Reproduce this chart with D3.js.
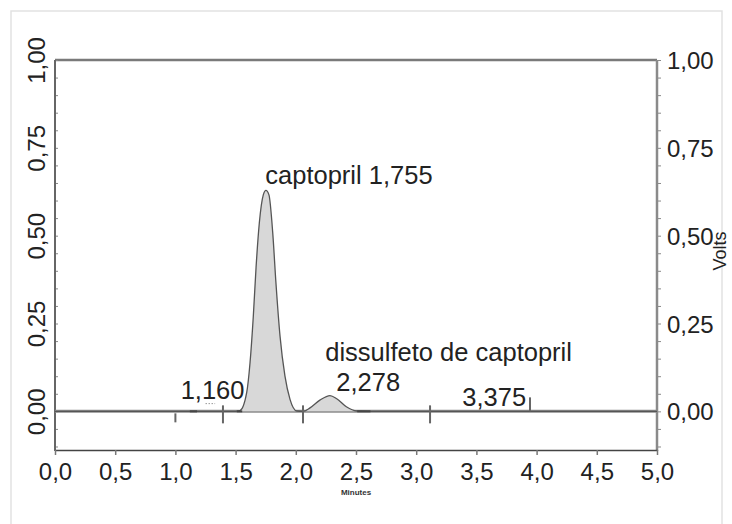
<!DOCTYPE html>
<html>
<head>
<meta charset="utf-8">
<script src="https://cdn.jsdelivr.net/npm/d3@7/dist/d3.min.js"></script>
<style>
  body { margin: 0; background: #fff; }
  text { font-family: "Liberation Sans", Arial, sans-serif; fill: #222; }
</style>
</head>
<body>
<svg id="chart" width="732" height="524"></svg>
<script>
// chromatogram trace (minutes, volts)
const times = [0, 1.50, 1.537, 1.592, 1.62, 1.647, 1.67, 1.697, 1.73, 1.752, 1.777, 1.808, 1.835, 1.869, 1.91, 1.952, 2.007, 2.06, 2.118, 2.20, 2.284, 2.34, 2.42, 2.506, 2.60, 5.0];
const volts = [0, 0, 0.002, 0.053, 0.139, 0.27, 0.41, 0.536, 0.616, 0.629, 0.616, 0.51, 0.366, 0.214, 0.10, 0.034, 0.001, 0, 0.01, 0.032, 0.045, 0.036, 0.013, 0.001, 0, 0];

// integration events along the baseline
const eventTimes = [1.0, 1.395, 2.06, 3.115, 3.945];
const eventKinds = ["down", "cross", "cross", "cross", "up"];
const dashStarts = [1.12, 1.51, 2.51];
const dashEnds = [1.18, 1.555, 2.62];

// peak labels
const peakNames = ["captopril 1,755", "dissulfeto de captopril", "2,278", "1,160", "3,375"];
const peakTimes = [1.755, 2.278, 2.278, 1.16, 3.375];

const xTicks = [0, 0.5, 1, 1.5, 2, 2.5, 3, 3.5, 4, 4.5, 5];
const yTicks = [0, 0.25, 0.5, 0.75, 1];
const yMinor = d3.range(-0.1, 1.001, 0.05).map(v => +v.toFixed(2));

const ptBR = d3.formatLocale({decimal: ",", thousands: ".", grouping: [3], currency: ["", ""]});

const svg = d3.select("#chart");
const mLeft = 55, mRight = 657, mTop = 60, mBottom = 450;

const x = d3.scaleLinear().domain([0, 5]).range([mLeft, mRight]);
const y = d3.scaleLinear().domain([-0.11, 1.0]).range([mBottom, mTop]);

// outer light frame
svg.append("rect")
    .attr("x", 11).attr("y", 11)
    .attr("width", 711).attr("height", 540)
    .attr("fill", "none").attr("stroke", "#e2e2e2").attr("stroke-width", 1.5);

// top frame line
svg.append("line")
    .attr("x1", mLeft).attr("x2", mRight).attr("y1", mTop).attr("y2", mTop)
    .attr("stroke", "#7a7a7a").attr("stroke-width", 2.5);

// left axis: inside minor ticks + rotated labels
const gl = svg.append("g").attr("transform", `translate(${mLeft},0)`);
gl.call(d3.axisRight(y).tickValues(yMinor).tickSize(3).tickFormat(""));
gl.select(".domain").remove();
gl.selectAll(".tick line").attr("stroke", "#888");
gl.append("line").attr("y1", mTop).attr("y2", mBottom + 1)
    .attr("stroke", "#666").attr("stroke-width", 2);
const glLab = svg.append("g").attr("transform", `translate(${mLeft},0)`)
    .call(d3.axisLeft(y).tickValues(yTicks).tickSize(0).tickFormat(ptBR.format(".2f")));
glLab.select(".domain").remove();
glLab.selectAll("text")
    .attr("transform", "rotate(-90)")
    .attr("x", 0).attr("y", -10).attr("dy", 0)
    .attr("text-anchor", "middle")
    .style("font-size", "24px");

// right axis
const gr = svg.append("g").attr("transform", `translate(${mRight},0)`);
gr.call(d3.axisRight(y).tickValues(yMinor).tickSize(4).tickFormat(""));
gr.select(".domain").remove();
gr.selectAll(".tick line").attr("stroke", "#888");
gr.append("line").attr("y1", mTop).attr("y2", mBottom + 1)
    .attr("stroke", "#8a8a8a").attr("stroke-width", 2.5);
const grLab = svg.append("g").attr("transform", `translate(${mRight},0)`)
    .call(d3.axisRight(y).tickValues(yTicks).tickSize(0).tickPadding(10).tickFormat(ptBR.format(".2f")));
grLab.select(".domain").remove();
grLab.selectAll("text").attr("dy", "0.36em").style("font-size", "24px");

// bottom axis
const gb = svg.append("g").attr("transform", `translate(0,${mBottom})`)
    .call(d3.axisBottom(x).tickValues(xTicks).tickSize(5).tickSizeOuter(0).tickFormat(ptBR.format(".1f")));
gb.select(".domain").attr("stroke", "#444").attr("stroke-width", 1.5);
gb.selectAll(".tick line").attr("stroke", "#777").attr("stroke-width", 1.5);
gb.selectAll("text").attr("y", 30).attr("dy", 0).style("font-size", "24px");

svg.append("text")
    .attr("x", (mLeft + mRight) / 2).attr("y", 495)
    .attr("text-anchor", "middle")
    .style("font-size", "8px").style("font-weight", "bold")
    .style("fill", "#333")
    .text("Minutes");

svg.append("text")
    .attr("transform", "translate(726,251) rotate(-90)")
    .attr("text-anchor", "middle")
    .style("font-size", "18px")
    .text("Volts");

// baseline
svg.append("line")
    .attr("x1", mLeft).attr("x2", mRight).attr("y1", y(0)).attr("y2", y(0))
    .attr("stroke", "#8c8c8c").attr("stroke-width", 3);

// trace
const pts = times.map((t, i) => [t, volts[i]]);
svg.append("path")
    .datum(pts)
    .attr("fill", "#d8d8d8")
    .attr("d", d3.area().x(d => x(d[0])).y0(y(0)).y1(d => y(d[1])).curve(d3.curveMonotoneX));
svg.append("path")
    .datum(pts)
    .attr("fill", "none").attr("stroke", "#555").attr("stroke-width", 1.3)
    .attr("d", d3.line().x(d => x(d[0])).y(d => y(d[1])).curve(d3.curveMonotoneX));

// integration event marks
eventTimes.forEach((t, i) => {
    const k = eventKinds[i];
    const y0 = y(0);
    const y1 = k === "down" ? y0 + 2 : (k === "up" ? y0 - 14 : y0 - 6);
    const y2 = k === "up" ? y0 : (k === "down" ? y0 + 11 : y0 + 12);
    svg.append("line")
        .attr("x1", x(t)).attr("x2", x(t)).attr("y1", y1).attr("y2", y2)
        .attr("stroke", "#666").attr("stroke-width", 2);
});
dashStarts.forEach((t, i) => {
    svg.append("line")
        .attr("x1", x(t)).attr("x2", x(dashEnds[i])).attr("y1", y(0)).attr("y2", y(0))
        .attr("stroke", "#444").attr("stroke-width", 2);
});
// faint dotted mark of the small 1,160 peak
svg.append("line")
    .attr("x1", x(1.25)).attr("x2", x(1.33)).attr("y1", y(0.022)).attr("y2", y(0.022))
    .attr("stroke", "#999").attr("stroke-width", 1).attr("stroke-dasharray", "1.5,1.5");

// peak labels
const labelOffsets = [[-1, -6], [-4, -50], [7, -20], [-14, -12], [1, -5]];
peakNames.forEach((name, i) => {
    svg.append("text")
        .attr("x", x(peakTimes[i]) + labelOffsets[i][0])
        .attr("y", (i === 0 ? y(0.629) : y(0)) + labelOffsets[i][1])
        .style("font-size", "25.5px")
        .text(name);
});
</script>
</body>
</html>
